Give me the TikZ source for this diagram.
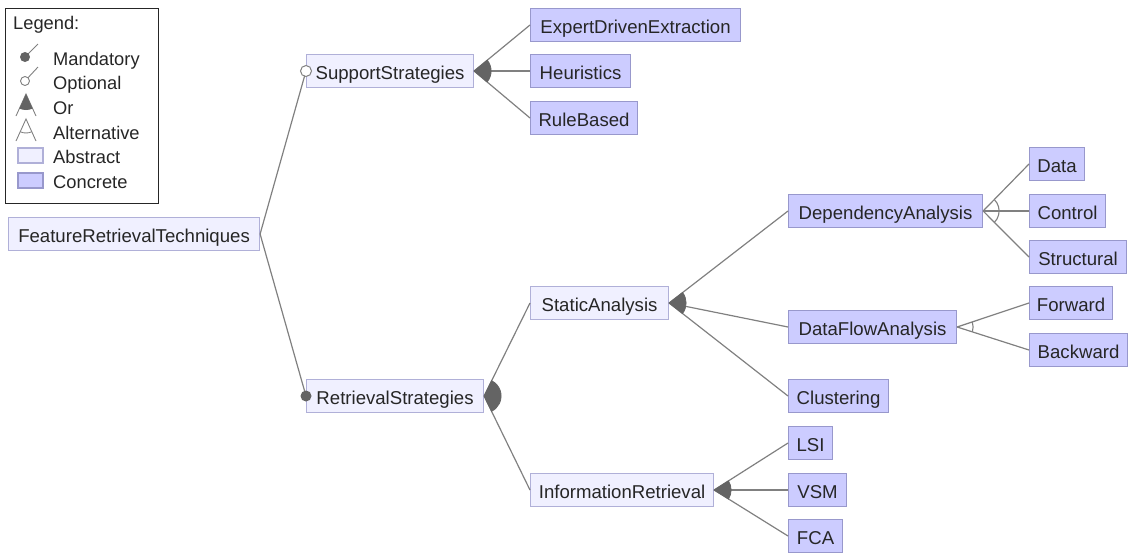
\documentclass[tikz,border=0pt]{standalone}
\usepackage{fontspec}
\setmainfont{Liberation Sans}
\usetikzlibrary{calc}
\definecolor{absfill}{HTML}{F0F0FF}
\definecolor{absdraw}{HTML}{B0B0D8}
\definecolor{confill}{HTML}{CCCCFF}
\definecolor{condraw}{HTML}{9898CC}
\definecolor{edgecol}{HTML}{808080}
\definecolor{grpcol}{HTML}{646464}
\tikzset{
  feat/.style={anchor=west, minimum height=33pt, inner xsep=0pt, inner ysep=0pt, line width=1.1pt,
    text height=16pt, text depth=0pt,
    font=\fontsize{18.6}{21}\selectfont, text=black!85},
  abstractf/.style={feat, fill=absfill, draw=absdraw},
  concretef/.style={feat, fill=confill, draw=condraw},
  edge/.style={draw=edgecol, line width=1.2pt},
  orfill/.style={fill=grpcol, draw=grpcol, line width=0.8pt},
  altarc/.style={draw=edgecol, line width=1.1pt},
  legtext/.style={anchor=west, inner sep=0pt, text height=14pt, text depth=0pt,
    font=\fontsize{18.3}{21}\selectfont, text=black!85},
}
\newcommand{\orgroup}[3]{%
  \filldraw[orfill] let \p0=(#1.east), \p1=(#2.west), \p2=(#3.west),
    \n1={atan2(\y1-\y0,\x1-\x0)}, \n2={atan2(\y2-\y0,\x2-\x0)} in
    (\p0) -- ++(\n1:17pt) arc[start angle=\n1, end angle=\n2, radius=17pt] -- cycle;}
\newcommand{\altgroup}[3]{%
  \draw[altarc] let \p0=(#1.east), \p1=(#2.west), \p2=(#3.west),
    \n1={atan2(\y1-\y0,\x1-\x0)}, \n2={atan2(\y2-\y0,\x2-\x0)} in
    ($(\p0)+(\n1:16pt)$) arc[start angle=\n1, end angle=\n2, radius=16pt];}
\begin{document}
\begin{tikzpicture}[x=1pt,y=1pt]
\useasboundingbox (0,0) rectangle (1129,-552);
% legend
\node[draw=black!85, line width=1.3pt, minimum width=153pt, minimum height=195pt, anchor=north west, inner sep=0pt] (legend) at (5,-8) {};
\node[legtext] (lgtitle) at (13,-22) {Legend:};
\node[legtext] (lgmand) at (53,-58) {Mandatory};
\node[legtext] (lgopt) at (53,-82) {Optional};
\node[legtext] (lgor) at (53,-107) {Or};
\node[legtext] (lgalt) at (53,-132) {Alternative};
\node[legtext] (lgabs) at (53,-156) {Abstract};
\node[legtext] (lgcon) at (53,-181) {Concrete};
\draw[edge, line width=0.9pt] (25,-57) -- (38,-44);
\fill[grpcol] (25,-57) circle (5);
\draw[edge, line width=0.9pt] (25,-81) -- (38,-67);
\filldraw[fill=white, draw=edgecol, line width=0.9pt] (25,-81) circle (4.5);
\draw[edge, line width=0.9pt] (16,-116) -- (26,-94) -- (36,-116);
\fill[grpcol] (26,-94) -- ++(245.6:16) arc[start angle=245.6, end angle=294.4, radius=16] -- cycle;
\draw[edge, line width=0.9pt] (16,-141) -- (26,-119) -- (36,-141);
\draw[edge, line width=0.9pt] (26,-119) ++(245.6:14) arc[start angle=245.6, end angle=294.4, radius=14];
\draw[fill=absfill, draw=absdraw, line width=1.1pt] (18,-148) rectangle (43,-163);
\draw[fill=confill, draw=condraw, line width=1.1pt] (18,-173) rectangle (43,-188);
% features
\node[abstractf, minimum width=251pt] (root) at (8,-234) {FeatureRetrievalTechniques};
\node[abstractf, minimum width=167pt] (sup) at (306,-71) {SupportStrategies};
\node[abstractf, minimum width=177pt] (ret) at (306,-396) {RetrievalStrategies};
\node[concretef, minimum width=210pt] (ede) at (530,-25) {ExpertDrivenExtraction};
\node[concretef, minimum width=100pt] (heu) at (530,-71) {Heuristics};
\node[concretef, minimum width=107pt] (rb) at (530,-118) {RuleBased};
\node[abstractf, minimum width=138pt] (sa) at (530,-303) {StaticAnalysis};
\node[abstractf, minimum width=183pt] (ir) at (530,-490) {InformationRetrieval};
\node[concretef, minimum width=194pt] (da) at (788,-211) {DependencyAnalysis};
\node[concretef, minimum width=168pt] (dfa) at (788,-327) {DataFlowAnalysis};
\node[concretef, minimum width=100pt] (clu) at (788,-396) {Clustering};
\node[concretef, minimum width=55pt] (data) at (1029,-164) {Data};
\node[concretef, minimum width=76pt] (ctl) at (1029,-211) {Control};
\node[concretef, minimum width=97pt] (str) at (1029,-257) {Structural};
\node[concretef, minimum width=83pt] (fwd) at (1029,-303) {Forward};
\node[concretef, minimum width=98pt] (bwd) at (1029,-350) {Backward};
\node[concretef, minimum width=44pt] (lsi) at (788,-443) {LSI};
\node[concretef, minimum width=58pt] (vsm) at (788,-490) {VSM};
\node[concretef, minimum width=54pt] (fca) at (788,-536) {FCA};
% edges
\draw[edge] (root.east) -- (sup.west);
\draw[edge] (root.east) -- (ret.west);
\foreach \c in {ede,heu,rb} \draw[edge] (sup.east) -- (\c.west);
\foreach \c in {sa,ir} \draw[edge] (ret.east) -- (\c.west);
\foreach \c in {da,dfa,clu} \draw[edge] (sa.east) -- (\c.west);
\foreach \c in {lsi,vsm,fca} \draw[edge] (ir.east) -- (\c.west);
\foreach \c in {data,ctl,str} \draw[edge] (da.east) -- (\c.west);
\foreach \c in {fwd,bwd} \draw[edge] (dfa.east) -- (\c.west);
% groups
\orgroup{sup}{ede}{rb}
\orgroup{ret}{sa}{ir}
\orgroup{sa}{da}{clu}
\orgroup{ir}{lsi}{fca}
\altgroup{da}{data}{str}
\altgroup{dfa}{fwd}{bwd}
% optional / mandatory markers
\filldraw[fill=white, draw=edgecol, line width=1pt] (sup.west) circle (5.5);
\fill[grpcol] (ret.west) circle (5.5);
\end{tikzpicture}
\end{document}
